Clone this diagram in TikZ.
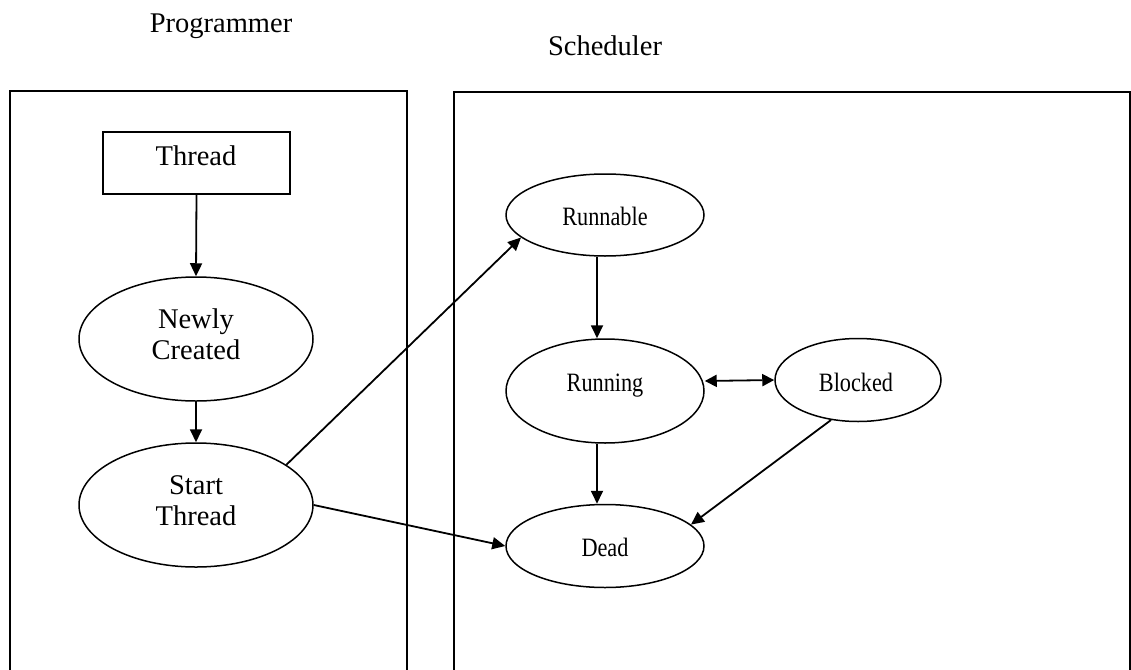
\documentclass[tikz,border=0pt]{standalone}
\usepackage{fontspec}
\usepackage{graphicx}
\setmainfont{Liberation Serif}
\usetikzlibrary{shapes.geometric,arrows.meta}
\newcommand{\lefttxt}{\fontsize{28.5}{31}\selectfont}
\newcommand{\righttxt}[1]{\scalebox{0.84}[1]{\fontsize{26.5}{30}\selectfont #1}}
\begin{document}
\begin{tikzpicture}[x=1pt,y=-1pt,
  panel/.style={line width=2.2pt},
  stateov/.style={draw,ellipse,line width=1.5pt,inner sep=0pt},
  boxnode/.style={draw,rectangle,line width=1.5pt,inner sep=0pt},
  txt/.style={anchor=base,inner sep=0pt},
  conn/.style={line width=1.8pt,-{Triangle[length=13pt,width=12pt]}},
  biconn/.style={line width=1.8pt,{Triangle[length=12pt,width=12pt]}-{Triangle[length=12pt,width=12pt]}}]
\useasboundingbox (0,0) rectangle (1131,669);
\clip (0,0) rectangle (1131,669);
% panels
\draw[panel] (10,680) -- (10,91) -- (407,91) -- (407,680);
\draw[panel] (454,680) -- (454,92) -- (1130,92) -- (1130,680);
\node[txt,font=\lefttxt] (lprog) at (221,33) {Programmer};
\node[txt,font=\lefttxt] (lsched) at (605,56) {Scheduler};
% shapes
\node[boxnode,minimum width=187pt,minimum height=62pt] (thread) at (196.5,163) {};
\node[stateov,minimum width=234pt,minimum height=124pt] (newly) at (196,339) {};
\node[stateov,minimum width=234pt,minimum height=124pt] (start) at (196,505) {};
\node[stateov,minimum width=198pt,minimum height=82pt] (runnable) at (605,215) {};
\node[stateov,minimum width=198pt,minimum height=104pt] (running) at (605,391) {};
\node[stateov,minimum width=166pt,minimum height=83pt] (blocked) at (858,380) {};
\node[stateov,minimum width=198pt,minimum height=83pt] (dead) at (605,546) {};
% texts
\node[txt,font=\lefttxt] (tthread) at (196,165) {Thread};
\node[txt,font=\lefttxt] (tnewly) at (196,328) {Newly};
\node[txt,font=\lefttxt] (tcreated) at (196,359) {Created};
\node[txt,font=\lefttxt] (tstart) at (196,494) {Start};
\node[txt,font=\lefttxt] (tthread2) at (196,525) {Thread};
\node[txt] (trunnable) at (605,225) {\righttxt{Runnable}};
\node[txt] (trunning) at (605,391) {\righttxt{Running}};
\node[txt] (tblocked) at (856,391) {\righttxt{Blocked}};
\node[txt] (tdead) at (605,556) {\righttxt{Dead}};
% connectors
\draw[conn] (thread.south) -- (newly.north);
\draw[conn] (newly.south) -- (start.north);
\draw[conn] (start.24) -- (runnable.195);
\draw[conn] (start.east) -- (dead.west);
\draw[conn] ([xshift=-8pt]runnable.south) -- ([xshift=-8pt]running.north);
\draw[conn] ([xshift=-8pt]running.south) -- ([xshift=-8pt]dead.north);
\draw[biconn] ([yshift=10pt]running.east) -- (blocked.west);
\draw[conn] (blocked.236) -- (dead.14);
\end{tikzpicture}
\end{document}
